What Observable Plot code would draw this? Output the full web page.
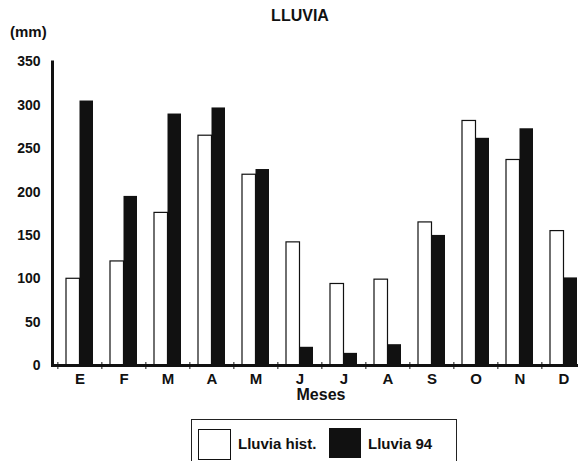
<!DOCTYPE html>
<html>
<head>
<meta charset="utf-8">
<script src="https://cdn.jsdelivr.net/npm/d3@7"></script>
<script src="https://cdn.jsdelivr.net/npm/@observablehq/plot@0.6"></script>
<style>
  html, body { margin: 0; padding: 0; background: #fff; overflow: hidden; }
  #wrap { position: relative; width: 578px; height: 461px; overflow: hidden; background: #fff;
          font-family: "Liberation Sans", Arial, sans-serif; font-weight: bold; color: #111; }
  #chart { position: absolute; left: 0; top: 0; }
  .t { position: absolute; white-space: nowrap; line-height: 1; }
  #title { left: 0; width: 600px; text-align: center; top: 8px; font-size: 16px; }
  #unit { left: 10px; top: 24px; font-size: 15px; }
  #xlab { left: 221px; width: 200px; text-align: center; top: 386.5px; font-size: 16px; }
  #legend { position: absolute; left: 191px; top: 419px; width: 266px; height: 60px;
            border: 1.5px solid #222; box-sizing: border-box; }
  .sw { position: absolute; box-sizing: border-box; }
  #sw1 { left: 6px; top: 9px; width: 33px; height: 31px; border: 1.5px solid #111; background: #fff; }
  #sw2 { left: 137px; top: 8px; width: 32px; height: 30px; background: #111; }
  #l1 { left: 46px; top: 15.5px; font-size: 15px; }
  #l2 { left: 176px; top: 15.5px; font-size: 15px; }
</style>
</head>
<body>
<div id="wrap">
  <div id="chart"></div>
  <div class="t" id="title">LLUVIA</div>
  <div class="t" id="unit">(mm)</div>
  <div class="t" id="xlab">Meses</div>
  <div id="legend">
    <div class="sw" id="sw1"></div>
    <div class="t" id="l1">Lluvia hist.</div>
    <div class="sw" id="sw2"></div>
    <div class="t" id="l2">Lluvia 94</div>
  </div>
</div>
<script>
// Data (mm)
const months = ["E", "F", "M", "A", "M", "J", "J", "A", "S", "O", "N", "D"];
const lluviaHist = [100, 120, 176, 265, 220, 142, 94, 99, 165, 282, 237, 155];
const lluvia94  = [305, 195, 290, 297, 226, 21, 14, 24, 150, 262, 273, 101];
const yTicks = [0, 50, 100, 150, 200, 250, 300, 350];

const table = months.map((m, i) => ({k: i, month: m, hist: lluviaHist[i], v94: lluvia94[i]}));
const keys = table.map(d => d.k);

const xRange = [52, 590];
const padIn = 0.39, padOut = 0.27;
const step = (xRange[1] - xRange[0]) / (months.length - padIn + 2 * padOut);
const bw = step * (1 - padIn);
const half = bw / 2;

const chart = Plot.plot({
  width: 578,
  height: 410,
  marginLeft: 52,
  marginRight: 0,
  marginTop: 61.5,
  marginBottom: 45,
  style: {fontFamily: "'Liberation Sans', Arial, sans-serif", fontWeight: "bold", color: "#111", background: "transparent"},
  x: {type: "band", domain: keys, range: xRange, paddingInner: padIn, paddingOuter: padOut},
  y: {domain: [0, 350]},
  marks: [
    Plot.barY(table, {x: "k", y: "hist", fill: "white", stroke: "#111", strokeWidth: 1.2, insetRight: half}),
    Plot.barY(table, {x: "k", y: "v94", fill: "#111", insetLeft: half}),
    Plot.ruleY([0], {stroke: "#111", strokeWidth: 3}),
    Plot.ruleX(table, {x: "k", y1: 0, y2: 0, dx: -step / 2, insetTop: -3, insetBottom: -4, stroke: "#111", strokeWidth: 1}),
    Plot.frame({anchor: "left", stroke: "#111", strokeWidth: 3}),
    Plot.axisY({ticks: yTicks, tickSize: 0, tickPadding: 12, fontSize: 14, fontWeight: "bold", label: null}),
    Plot.axisX({tickSize: 0, tickPadding: 8, fontSize: 15, fontWeight: "bold", label: null, tickFormat: i => months[i]})
  ]
});
document.getElementById("chart").appendChild(chart);
</script>
</body>
</html>
